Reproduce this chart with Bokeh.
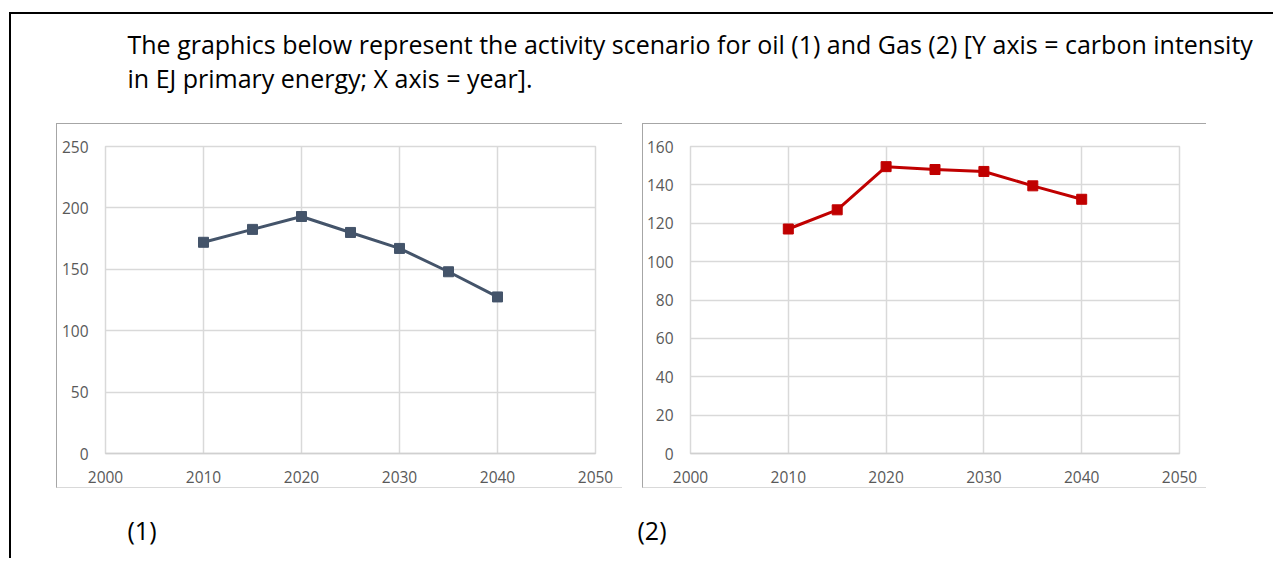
from bokeh.plotting import figure
from bokeh.models import Range1d, FixedTicker, Label
from bokeh.layouts import column, row
from bokeh.embed import file_html
from bokeh.resources import INLINE

# ---- data ----
years = [2010, 2015, 2020, 2025, 2030, 2035, 2040]
oil = [172, 182.5, 193, 180, 167, 148, 127.5]
gas = [117, 127, 149.5, 148, 147, 139.5, 132.5]
x_ticks = [2000, 2010, 2020, 2030, 2040, 2050]
oil_ticks = [0, 50, 100, 150, 200, 250]
gas_ticks = [0, 20, 40, 60, 80, 100, 120, 140, 160]

title_lines = [
    "The graphics below represent the activity scenario for oil (1) and Gas (2) [Y axis = carbon intensity",
    "in EJ primary energy; X axis = year].",
]
panel_labels = ["(1)", "(2)"]

FONT = "Open Sans"
GRID = "#D9D9D9"
TICK_COLOR = "#595959"


def make_chart(xs, ys, yticks, color, width, left, right, margin_left):
    p = figure(width=width, height=365, output_backend="svg", toolbar_location=None,
               x_range=Range1d(x_ticks[0], x_ticks[-1]),
               y_range=Range1d(yticks[0], yticks[-1]),
               min_border_left=left, min_border_right=right,
               min_border_top=22, min_border_bottom=36,
               background_fill_color="white", border_fill_color="white")
    p.margin = (0, 0, 0, margin_left)
    p.styles = {"border-top": "1px solid #A6A6A6", "border-left": "1px solid #A6A6A6",
                "border-bottom": "1px solid #D9D9D9", "box-sizing": "border-box"}
    p.xaxis.ticker = FixedTicker(ticks=x_ticks)
    p.yaxis.ticker = FixedTicker(ticks=yticks)
    for ax in (p.xaxis[0], p.yaxis[0]):
        ax.major_tick_line_color = None
        ax.minor_tick_line_color = None
        ax.major_tick_out = 0
        ax.major_tick_in = 0
        ax.major_label_text_font = FONT
        ax.major_label_text_font_size = "15.5px"
        ax.major_label_text_color = TICK_COLOR
    p.xaxis.axis_line_color = "#D0D0D0"
    p.xaxis.axis_line_width = 1.5
    p.yaxis.axis_line_color = None
    p.xaxis.major_label_standoff = 17
    p.yaxis.major_label_standoff = 17
    p.xgrid.grid_line_color = GRID
    p.ygrid.grid_line_color = GRID
    p.xgrid.grid_line_width = 1.5
    p.ygrid.grid_line_width = 1.5
    p.outline_line_color = GRID
    p.outline_line_width = 1.5
    p.line(xs, ys, line_color=color, line_width=3)
    p.scatter(xs, ys, marker="square", size=10, fill_color=color, line_color=color)
    return p


p1 = make_chart(years, oil, oil_ticks, "#44546A", 566, 48, 28, 45)
p2 = make_chart(years, gas, gas_ticks, "#C00000", 564, 47, 28, 20)

banner = figure(width=1262, height=109, output_backend="svg", toolbar_location=None,
                x_range=Range1d(0, 1), y_range=Range1d(0, 1), min_border=0,
                x_axis_location=None, y_axis_location=None)
banner.grid.visible = False
banner.outline_line_color = None
for txt, yb in zip(title_lines, [80, 46]):
    banner.add_layout(Label(x=116, y=yb, x_units="screen", y_units="screen", text=txt,
                            text_font=FONT, text_font_size="25px",
                            text_color="black", text_baseline="alphabetic"))

bottom = figure(width=1262, height=70, output_backend="svg", toolbar_location=None,
                x_range=Range1d(0, 1), y_range=Range1d(0, 1), min_border=0,
                x_axis_location=None, y_axis_location=None)
bottom.grid.visible = False
bottom.outline_line_color = None
for txt, xl in zip(panel_labels, [116, 626]):
    bottom.add_layout(Label(x=xl, y=29, x_units="screen", y_units="screen", text=txt,
                            text_font=FONT, text_font_size="25px",
                            text_color="black", text_baseline="alphabetic"))

layout = column(banner, row(p1, p2), bottom)
layout.margin = (12, 0, 0, 9)
layout.styles = {"border-top": "2px solid black", "border-left": "2px solid black"}

open("out.html", "w").write(file_html(layout, INLINE))
